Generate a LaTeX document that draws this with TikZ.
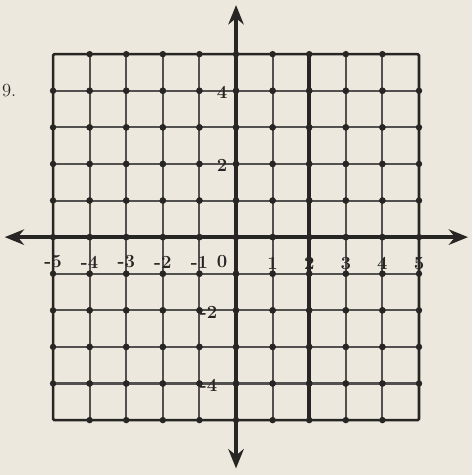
\documentclass[tikz,border=0pt]{standalone}
\usetikzlibrary{arrows.meta}
\definecolor{papier}{RGB}{236,232,221}
\definecolor{tinta}{RGB}{40,38,36}
\begin{document}
\begin{tikzpicture}[
      rejilla/.style={draw=tinta!80, line width=1.6pt},
      borde/.style={draw=tinta, line width=2pt, rounded corners=1pt},
      eje/.style={draw=tinta, line width=2.6pt,
                  {Stealth[length=15pt,width=12pt]}-{Stealth[length=15pt,width=12pt]}},
      recta/.style={draw=tinta, line width=3.4pt},
      punto/.style={fill=tinta, circle, inner sep=0pt, minimum size=5pt},
      etiq/.style={font=\Large\bfseries, text=tinta, inner sep=1pt}
    ]
    % fondo con las proporciones de la foto
    \fill[papier] (-6.45,-6.50) rectangle (6.45,6.48);
    \useasboundingbox (-6.45,-6.50) rectangle (6.45,6.48);

    % cuadricula
    \foreach \k in {-4,...,4} {
      \draw[rejilla] (\k,-5) -- (\k,5);
      \draw[rejilla] (-5,\k) -- (5,\k);
    }
    \draw[borde] (-5,-5) rectangle (5,5);

    \foreach \i in {-4,...,4} {
      \foreach \j in {-5,...,5} {
        \node[punto] at (\i,\j) {};
        \node[punto] at (\j,\i) {};
      }
    }

    % ejes
    \coordinate (xizq) at (-6.32,0);
    \coordinate (xder) at (6.34,0);
    \coordinate (yarr) at (0,6.34);
    \coordinate (yaba) at (0,-6.32);
    \draw[eje] (xizq) -- (xder);
    \draw[eje] (yaba) -- (yarr);

    % recta x = 2
    \coordinate (rarr) at (2,5);
    \coordinate (raba) at (2,-5);
    \draw[recta] (raba) -- (rarr);

    % numeros
    \node[etiq] (nm5) at (-5,-0.68) {-5};
    \node[etiq] (nm4) at (-4,-0.68) {-4};
    \node[etiq] (nm3) at (-3,-0.68) {-3};
    \node[etiq] (nm2) at (-2,-0.68) {-2};
    \node[etiq] (nm1) at (-1,-0.68) {-1};
    \node[etiq] (n0)  at (-0.38,-0.68) {0};
    \node[etiq] (n1)  at (1,-0.72) {1};
    \node[etiq] (n2)  at (2,-0.72) {2};
    \node[etiq] (n3)  at (3,-0.72) {3};
    \node[etiq] (n4)  at (4,-0.72) {4};
    \node[etiq] (n5)  at (5,-0.72) {5};

    \node[etiq] (y4)  at (-0.38,3.95) {4};
    \node[etiq] (y2)  at (-0.38,1.95) {2};
    \node[etiq] (ym2) at (-0.75,-2.05) {-2};
    \node[etiq] (ym4) at (-0.75,-4.05) {-4};

    \node[font=\Large, text=tinta, anchor=west, inner sep=0pt] (num) at (-6.40,4.0) {9.};
  \end{tikzpicture}
\end{document}
